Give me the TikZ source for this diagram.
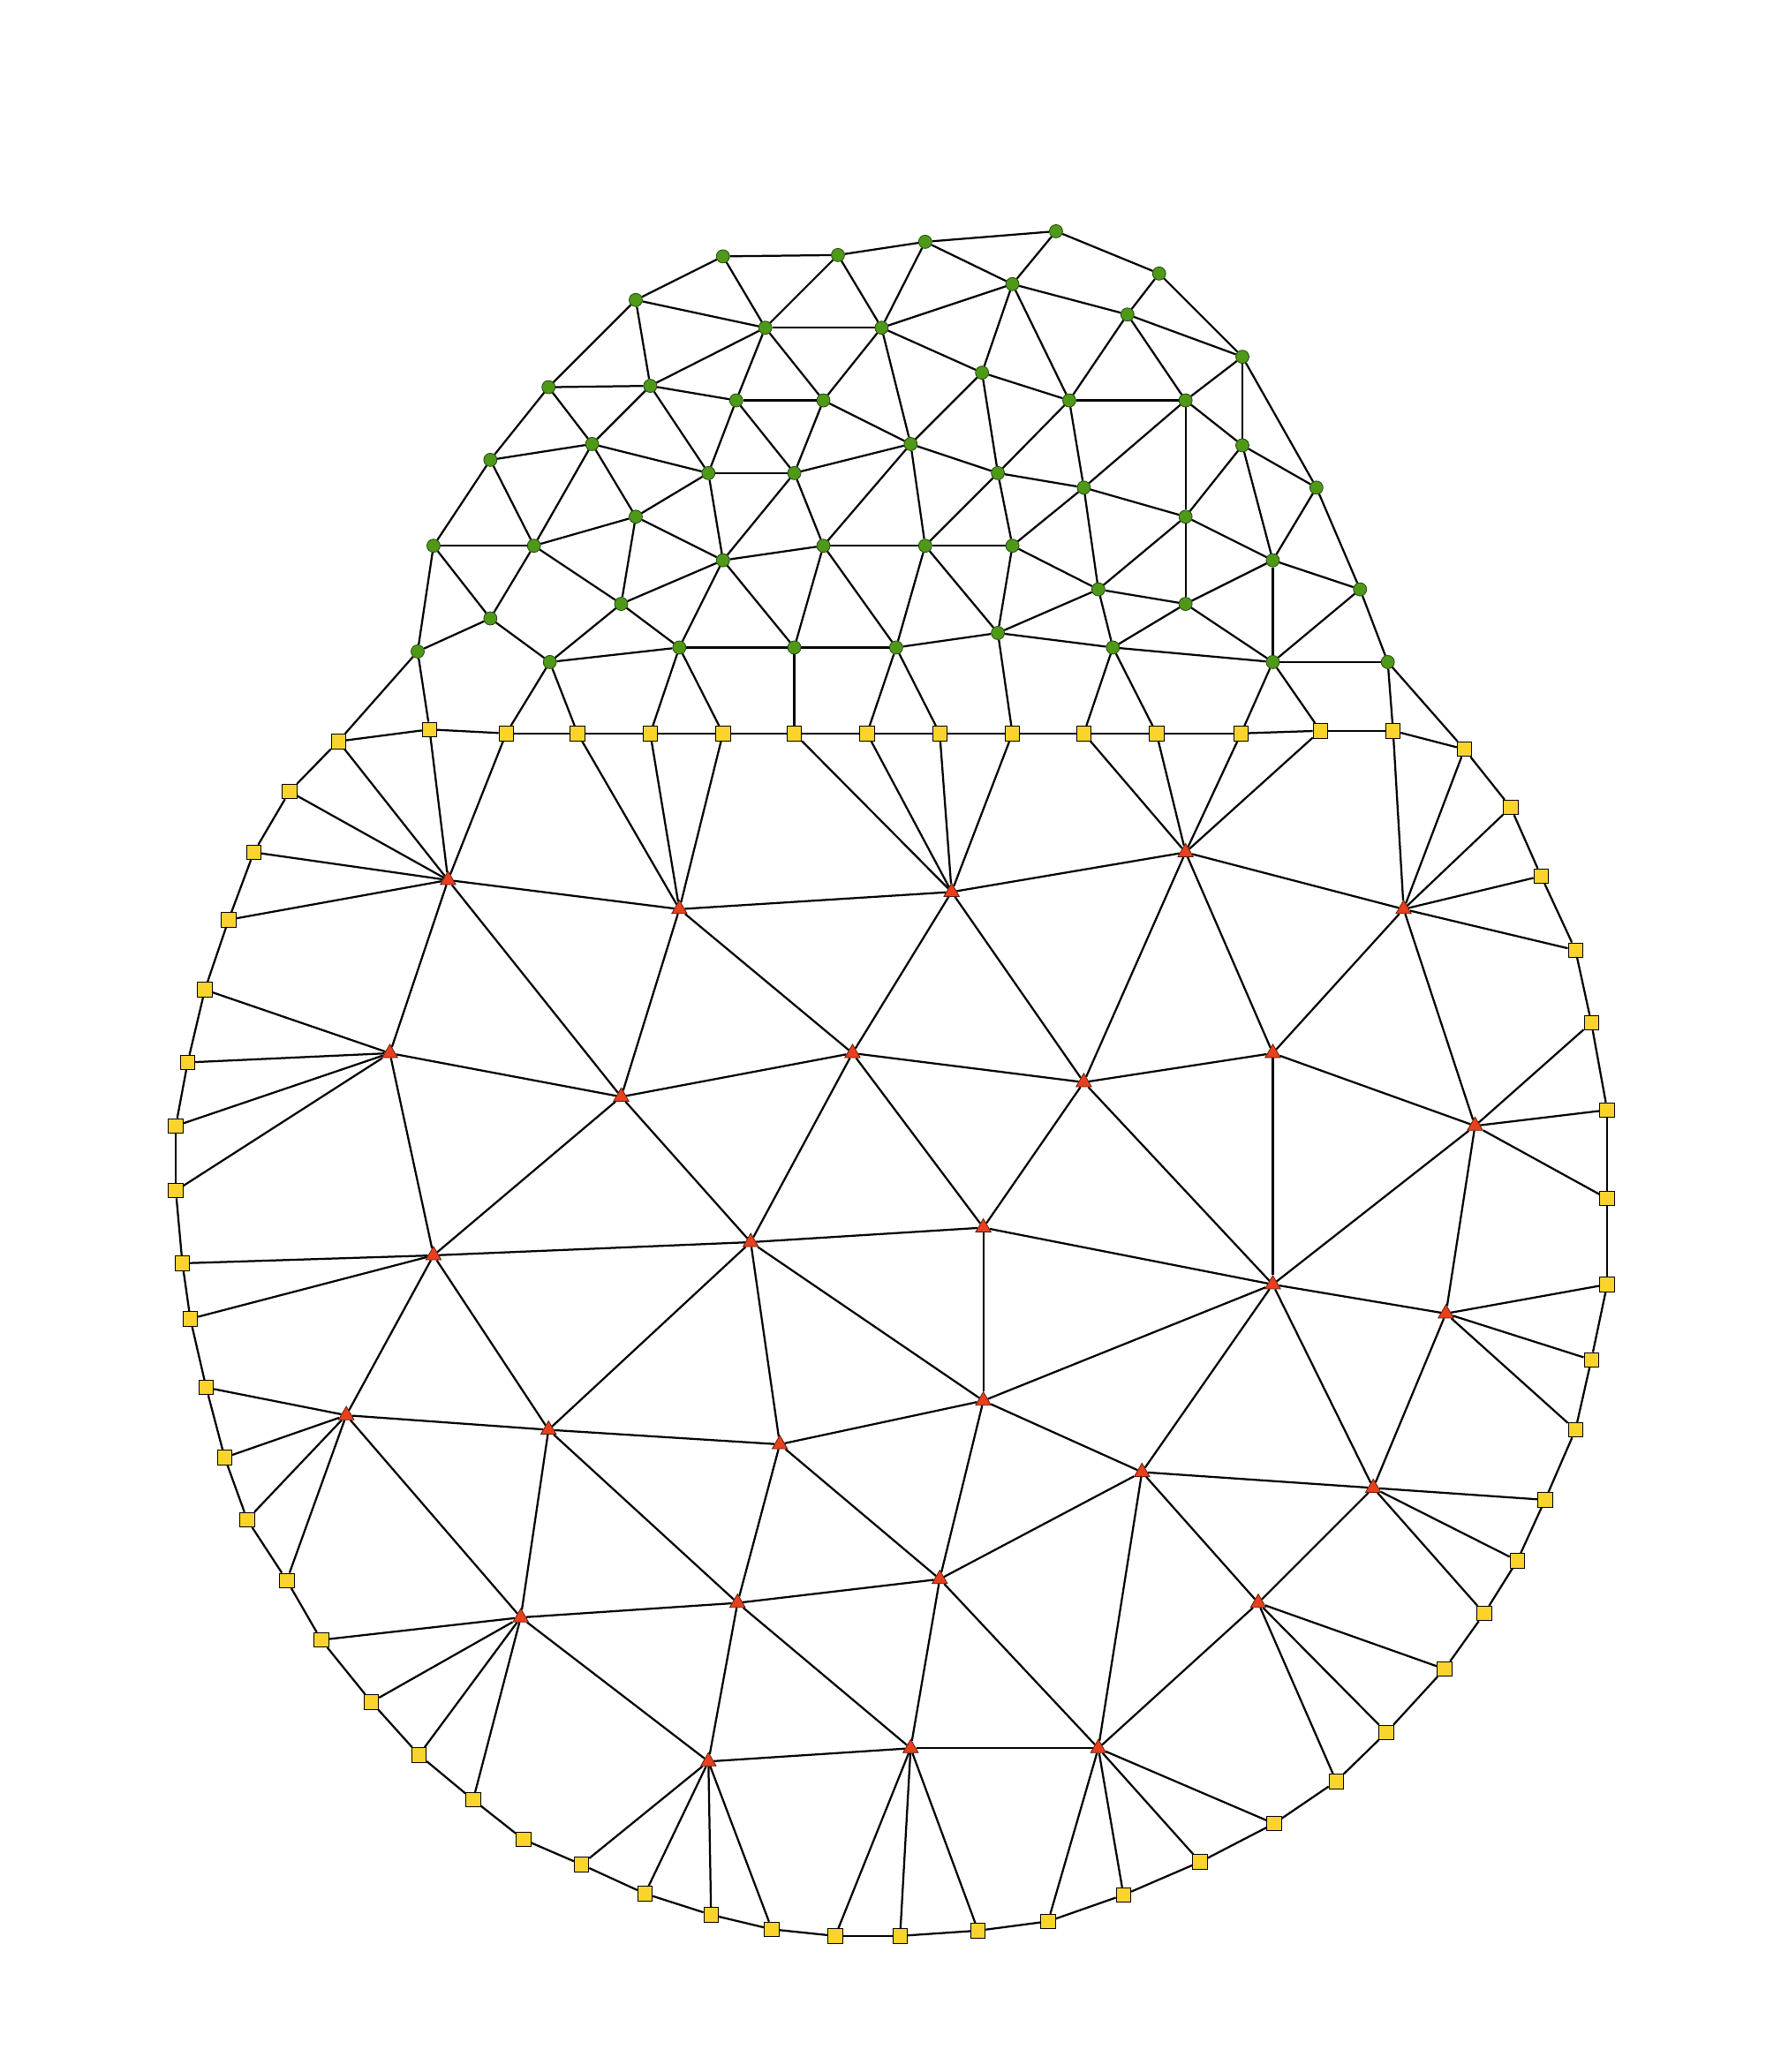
\documentclass[tikz,border=0pt]{standalone}
\usetikzlibrary{shapes.geometric}
\definecolor{gfill}{HTML}{4E9A18}
\definecolor{gline}{HTML}{1F3D08}
\definecolor{yfill}{HTML}{FAD42D}
\definecolor{rfill}{HTML}{E8401E}
\definecolor{rline}{HTML}{5A1A08}
\pgfdeclarelayer{background}
\pgfsetlayers{background,main}
\tikzset{
  gn/.style={circle,fill=gfill,draw=gline,line width=0.5pt,minimum size=10pt,inner sep=0pt},
  ysq/.style={rectangle,fill=yfill,draw=black,line width=0.6pt,minimum size=11pt,inner sep=0pt},
  rtri/.style={regular polygon,regular polygon sides=3,fill=rfill,draw=rline,line width=0.5pt,minimum size=13.5pt,inner sep=0pt},
  edge/.style={draw=black,line width=1.5pt}
}
\begin{document}
\begin{tikzpicture}[x=1pt,y=-1pt]
\useasboundingbox (0,0) rectangle (1336,1568);
% green nodes
\foreach \n/\x/\y in {1/547/194,2/634/193,3/700/183,4/799/175,5/877/207,6/481/227,7/766/215,8/853/238,9/940/270,10/579/248,
11/667/248,12/743/282,13/415/293,14/492/292,15/557/303,16/623/303,17/809/303,18/897/303,19/371/348,20/448/336,
21/689/336,22/940/337,23/536/358,24/601/358,25/755/358,26/820/369,27/996/369,28/481/391,29/897/391,30/328/413,
31/404/413,32/547/424,33/623/413,34/700/413,35/766/413,36/963/424,37/831/446,38/1029/446,39/371/468,40/470/457,
41/897/457,42/316/493,43/416/501,44/514/490,45/601/490,46/678/490,47/755/479,48/842/490,49/963/501,50/1050/501}
  \node[gn] (G\n) at (\x,\y) {};
% yellow nodes
\foreach \n/\x/\y in {1/256/561,2/325/552,3/383/555,4/437/555,5/492/555,6/547/555,7/601/555,8/656/555,9/711/555,10/766/555,
11/820/555,12/875/555,13/939/555,14/999/553,15/1054/553,16/1108/567,17/1143/611,18/1166/663,19/1192/719,20/1204/774,
21/1216/840,22/1216/907,23/1216/972,24/1204/1029,25/1192/1082,26/1169/1135,27/1148/1181,28/1123/1221,29/1093/1263,30/1049/1311,
31/1011/1348,32/964/1380,33/908/1409,34/850/1434,35/793/1454,36/740/1461,37/681/1465,38/632/1465,39/584/1460,40/538/1449,
41/488/1433,42/440/1411,43/396/1392,44/358/1362,45/317/1328,46/281/1288,47/243/1241,48/217/1196,49/187/1150,50/170/1103,
51/156/1050,52/144/998,53/138/956,54/133/901,55/133/852,56/142/804,57/155/749,58/173/696,59/192/645,60/219/599}
  \node[ysq] (Y\n) at (\x,\y) {};
% red nodes
\foreach \n/\x/\y in {1/339/666,2/514/688,3/720/675,4/897/645,5/1062/688,6/295/797,7/470/830,8/645/797,9/820/819,10/963/797,
11/1116/852,12/328/950,13/568/940,14/744/929,15/963/972,16/1094/994,17/262/1071,18/415/1082,19/590/1093,20/744/1060,
21/864/1114,22/1039/1126,23/394/1224,24/558/1213,25/711/1195,26/952/1213,27/536/1333,28/689/1323,29/831/1323}
  \node[rtri] (R\n) at (\x,\y) {};
\begin{pgfonlayer}{background}
% green edges
\foreach \a/\b in {42/30,30/19,19/13,13/6,6/1,1/2,2/3,3/4,4/5,5/9,9/27,27/38,38/50,
6/10,6/14,1/10,2/10,2/11,3/11,3/7,4/7,7/11,7/12,7/17,7/8,5/8,8/9,8/17,8/18,9/18,9/22,
10/11,10/14,10/15,10/16,11/16,11/12,11/21,12/21,12/25,12/17,
13/14,13/20,14/15,14/20,14/23,15/16,15/23,15/24,16/24,16/21,
17/18,17/25,17/26,18/26,18/22,18/29,
19/20,19/31,20/31,20/28,20/23,
21/24,21/33,21/34,21/25,
22/27,22/29,22/36,
23/24,23/28,23/32,24/32,24/33,
25/26,25/34,25/35,26/35,26/29,26/37,
27/36,28/31,28/32,28/40,
29/37,29/41,29/36,
30/31,30/39,31/39,31/40,
32/33,32/40,32/44,32/45,
33/34,33/45,33/46,
34/35,34/46,34/47,
35/37,35/47,
36/38,36/41,36/49,
37/41,37/47,37/48,
38/49,39/42,39/43,40/43,40/44,
41/48,41/49,
43/44,44/45,45/46,46/47,47/48,48/49,49/50}
  \draw[edge] (G\a) -- (G\b);
% green-yellow edges
\foreach \a/\b in {42/1,42/2,43/3,43/4,44/5,44/6,45/7,46/8,46/9,47/10,48/11,48/12,49/13,49/14,50/15,50/16}
  \draw[edge] (G\a) -- (Y\b);
% boundary cycle
\foreach \a [evaluate=\a as \b using {int(mod(\a,60)+1)}] in {1,...,60}
  \draw[edge] (Y\a) -- (Y\b);
% red-yellow edges
\foreach \a/\b in {1/1,1/2,1/3,1/58,1/59,1/60,2/4,2/5,2/6,3/7,3/8,3/9,3/10,4/11,4/12,4/13,4/14,
5/15,5/16,5/17,5/18,5/19,6/54,6/55,6/56,6/57,11/20,11/21,11/22,12/52,12/53,16/23,16/24,16/25,
17/48,17/49,17/50,17/51,22/26,22/27,22/28,23/44,23/45,23/46,23/47,26/29,26/30,26/31,
27/39,27/40,27/41,27/42,28/36,28/37,28/38,29/32,29/33,29/34,29/35}
  \draw[edge] (R\a) -- (Y\b);
% red-red edges
\foreach \a/\b in {1/2,1/6,1/7,2/3,2/7,2/8,3/4,3/8,3/9,4/5,4/9,4/10,5/10,5/11,
6/7,6/12,7/8,7/12,7/13,8/9,8/13,8/14,9/10,9/14,9/15,10/11,10/15,11/15,11/16,
12/13,12/17,12/18,13/14,13/18,13/19,13/20,14/20,14/15,15/16,15/20,15/21,15/22,16/22,
17/18,17/23,18/19,18/23,18/24,19/20,19/24,19/25,20/21,20/25,21/22,21/25,21/26,21/29,22/26,
23/24,23/27,24/25,24/27,24/28,25/28,25/29,26/29,27/28,28/29}
  \draw[edge] (R\a) -- (R\b);
\end{pgfonlayer}
\end{tikzpicture}
\end{document}
